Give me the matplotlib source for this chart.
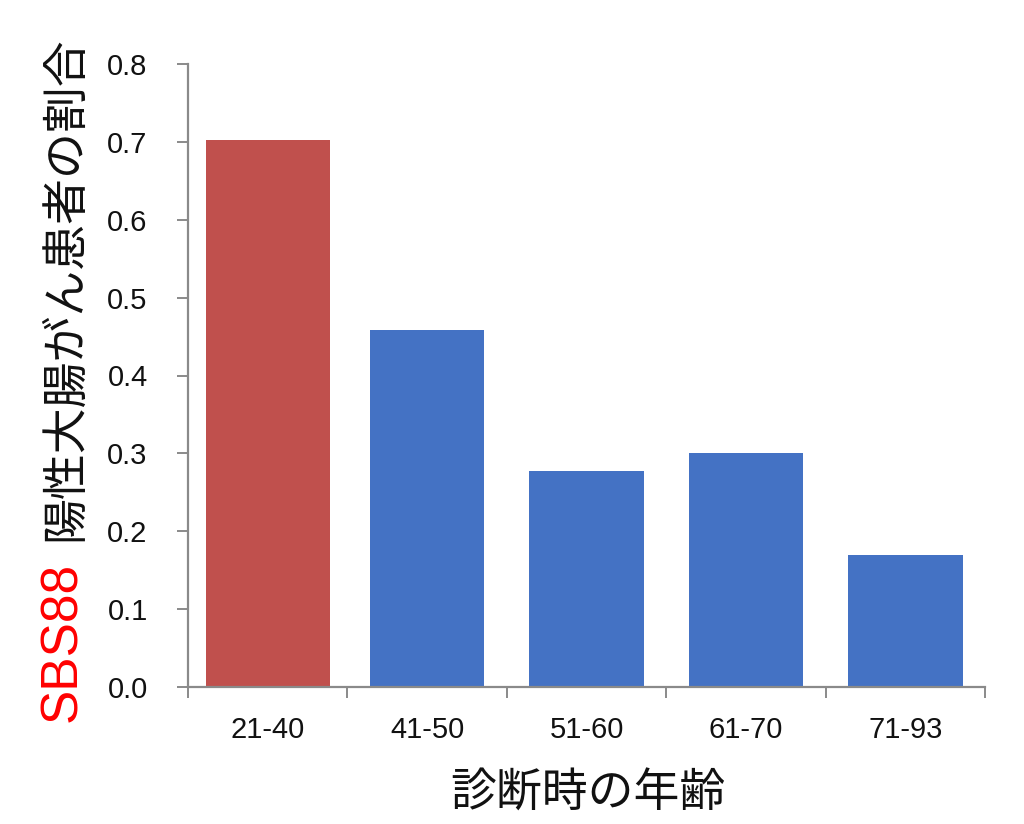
"""SBS88-positive colorectal cancer share by age at diagnosis."""

import matplotlib
matplotlib.use("Agg")
import matplotlib.pyplot as plt
from matplotlib.ticker import FixedLocator, FormatStrFormatter

# data
age_groups = ["21-40", "41-50", "51-60", "61-70", "71-93"]
sbs88_share = [0.703, 0.458, 0.277, 0.300, 0.170]
bar_colors = ["#C0504D", "#4472C4", "#4472C4", "#4472C4", "#4472C4"]
y_ticks = [0.0, 0.1, 0.2, 0.3, 0.4, 0.5, 0.6, 0.7, 0.8]

JP = ["Noto Sans CJK JP", "DejaVu Sans"]
NUM = ["Liberation Sans", "DejaVu Sans"]
AXIS_GRAY = "#8a8a8a"


def main():
    fig = plt.figure(figsize=(10.24, 8.24), dpi=100)
    ax = fig.add_axes([188 / 1024, 1 - 687 / 824, (985 - 188) / 1024, (687 - 64) / 824])

    x = list(range(len(age_groups)))
    widths = [0.78, 0.72, 0.72, 0.72, 0.72]
    ax.bar(x, sbs88_share, width=widths, color=bar_colors, linewidth=0)

    ax.set_xlim(-0.5, len(age_groups) - 0.5)
    ax.set_ylim(0, 0.8)

    for side in ("top", "right"):
        ax.spines[side].set_visible(False)
    for side in ("left", "bottom"):
        ax.spines[side].set_color(AXIS_GRAY)
        ax.spines[side].set_linewidth(1.6)

    # y axis
    ax.yaxis.set_major_locator(FixedLocator(y_ticks))
    ax.yaxis.set_major_formatter(FormatStrFormatter("%.1f"))
    ax.tick_params(axis="y", direction="out", length=8, width=1.4,
                   color=AXIS_GRAY, pad=21, labelsize=21)

    # x axis: labels at category centres, tick marks at boundaries
    ax.set_xticks(x)
    ax.set_xticklabels(age_groups)
    ax.set_xticks([i - 0.5 for i in range(len(age_groups) + 1)], minor=True)
    ax.tick_params(axis="x", which="major", length=0, pad=21, labelsize=21)
    ax.tick_params(axis="x", which="minor", direction="out", length=8,
                   width=1.4, color=AXIS_GRAY)

    for lab in ax.get_xticklabels() + ax.get_yticklabels():
        lab.set_family(NUM)
        lab.set_color("#111111")

    # two-colour y label
    fig.text(63 / 1024, 1 - 722 / 824, "SBS88", rotation=90, color="#FF0000",
             ha="center", va="bottom", fontsize=37, family=NUM)
    fig.text(65 / 1024, 1 - 541 / 824, "陽性大腸がん患者の割合", rotation=90,
             color="#111111", ha="center", va="bottom", fontsize=33, family=JP)

    fig.text(588 / 1024, 1 - 793 / 824, "診断時の年齢", color="#111111",
             ha="center", va="center", fontsize=33, family=JP)

    fig.savefig("out.png", dpi=100)


if __name__ == "__main__":
    main()
